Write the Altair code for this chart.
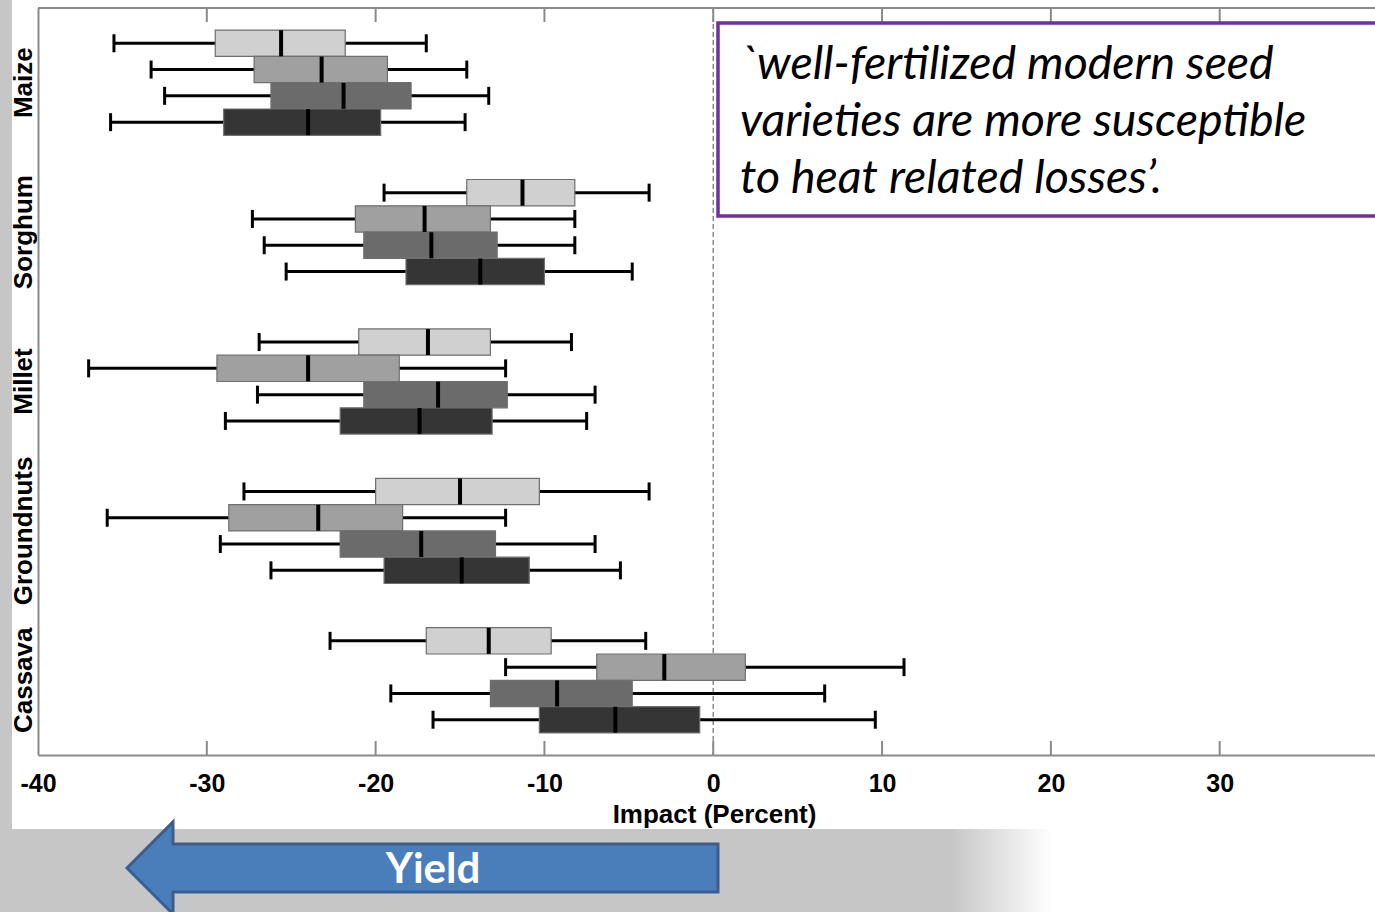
import altair as alt
import pandas as pd

# ---------------- data ----------------
crops = ["Maize", "Sorghum", "Millet", "Groundnuts", "Cassava"]
series = ["Series 1", "Series 2", "Series 3", "Series 4"]
series_colors = ["#d0d0d0", "#a0a0a0", "#6b6b6b", "#353535"]

# values listed crop by crop, series 1..4 within each crop
whisker_low = [-35.5, -33.3, -32.5, -35.7,
               -19.5, -27.3, -26.6, -25.3,
               -26.9, -37.0, -27.0, -28.9,
               -27.8, -35.9, -29.2, -26.2,
               -22.7, -12.3, -19.1, -16.6]
q1 = [-29.5, -27.2, -26.2, -29.0,
      -14.6, -21.2, -20.7, -18.2,
      -21.0, -29.4, -20.7, -22.1,
      -20.0, -28.7, -22.1, -19.5,
      -17.0, -6.9, -13.2, -10.3]
median = [-25.6, -23.2, -21.9, -24.0,
          -11.3, -17.1, -16.7, -13.8,
          -16.9, -24.0, -16.3, -17.4,
          -15.0, -23.4, -17.3, -14.9,
          -13.3, -2.9, -9.25, -5.8]
q3 = [-21.8, -19.3, -17.9, -19.7,
      -8.2, -13.2, -12.8, -10.0,
      -13.2, -18.6, -12.2, -13.1,
      -10.3, -18.4, -12.9, -10.9,
      -9.6, 1.9, -4.8, -0.8]
whisker_high = [-17.0, -14.6, -13.3, -14.7,
                -3.8, -8.2, -8.2, -4.8,
                -8.4, -12.3, -7.0, -7.5,
                -3.8, -12.3, -7.0, -5.5,
                -4.0, 11.3, 6.6, 9.6]

x_ticks = [-40, -30, -20, -10, 0, 10, 20, 30]
inner_ticks = [-30, -20, -10, 0, 10, 20, 30]
zero_line = [0]
x_domain = [-40, 39.2]

quote_lines = ["`well-fertilized modern seed",
               "varieties are more susceptible",
               "to heat related losses\u2019."]
arrow_label = "Yield"
x_title = "Impact (Percent)"

# ---------------- table ----------------
rows = []
i = 0
for c in crops:
    for s in series:
        rows.append(dict(crop=c, series=s, lo=whisker_low[i], q1=q1[i],
                         med=median[i], q3=q3[i], hi=whisker_high[i]))
        i += 1
df = pd.DataFrame(rows)
one = pd.DataFrame({"k": [0]})

W, H = 1337, 747
AXIS_GRAY = "#8a8a8a"

xscale = alt.Scale(domain=x_domain, nice=False, zero=False)
yscale = alt.Scale(domain=crops, paddingInner=0.296, paddingOuter=0.148)
oscale = alt.Scale(domain=series, paddingInner=0, paddingOuter=0)

X = lambda f: alt.X(f, type="quantitative", scale=xscale,
                    axis=alt.Axis(values=x_ticks, title=x_title, grid=False,
                                  ticks=False, tickSize=0, labelFlush=False,
                                  labelOverlap=False, labelPadding=16,
                                  labelExpr="datum.value < 0 ? '-' + abs(datum.value) : '' + datum.value",
                                  labelFontSize=25, labelFontWeight="bold",
                                  labelColor="black", labelFont="Liberation Sans",
                                  domainColor=AXIS_GRAY, domainWidth=2,
                                  titleFont="Liberation Sans", titleFontSize=26,
                                  titleFontWeight="bold", titleColor="black",
                                  titleX=676, titleY=67, titleBaseline="alphabetic",
                                  titleAlign="center", zindex=1))
Y = alt.Y("crop:N", scale=yscale, sort=crops,
          axis=alt.Axis(title=None, ticks=False, tickSize=0, labelAngle=270,
                        labelAlign="center", labelBaseline="middle",
                        labelPadding=15, labelFontSize=26, labelFontWeight="bold",
                        labelFont="Liberation Sans", labelColor="black",
                        domainColor=AXIS_GRAY, domainWidth=2, grid=False,
                        zindex=1))
YO = alt.YOffset("series:N", scale=oscale, sort=series)

# ---------------- decorations (background) ----------------
white_bg = alt.Chart(one).mark_rect(color="white").encode(
    x=alt.value(-26), x2=alt.value(W), y=alt.value(-8), y2=alt.value(821))
fade_bg = alt.Chart(one).mark_rect(
    color=alt.Gradient(gradient="linear", x1=0, y1=0, x2=1, y2=0,
                       stops=[alt.GradientStop(color="#c6c6c6", offset=0),
                              alt.GradientStop(color="white", offset=0.24),
                              alt.GradientStop(color="white", offset=1)])
).encode(x=alt.value(912), x2=alt.value(W), y=alt.value(821), y2=alt.value(904))

top_border = alt.Chart(one).mark_rule(color=AXIS_GRAY, strokeWidth=2).encode(
    x=alt.value(0), x2=alt.value(W), y=alt.value(0))
top_ticks = alt.Chart(pd.DataFrame({"t": inner_ticks})).mark_rule(
    color=AXIS_GRAY, strokeWidth=2).encode(
    x=alt.X("t:Q", scale=xscale), y=alt.value(0), y2=alt.value(14))
bottom_ticks = alt.Chart(pd.DataFrame({"t": inner_ticks})).mark_rule(
    color=AXIS_GRAY, strokeWidth=2).encode(
    x=alt.X("t:Q", scale=xscale), y=alt.value(H - 14), y2=alt.value(H))
zero_rule = alt.Chart(pd.DataFrame({"z": zero_line})).mark_rule(
    color="#8c8c8c", strokeWidth=1.5, strokeDash=[5, 3]).encode(
    x=alt.X("z:Q", scale=xscale), y=alt.value(0), y2=alt.value(H))

# ---------------- box plots ----------------
base = alt.Chart(df)
whisk = base.mark_rule(color="black", strokeWidth=3).encode(
    x=X("lo"), x2="hi", y=Y, yOffset=YO)
boxes = base.mark_bar(stroke="#6f6f6f", strokeWidth=1.2).encode(
    x=X("q1"), x2="q3", y=Y, yOffset=YO,
    color=alt.Color("series:N", scale=alt.Scale(domain=series, range=series_colors),
                    legend=None))
meds = base.mark_tick(color="black", thickness=4, size=26, opacity=1).encode(
    x=X("med"), y=Y, yOffset=YO)
cap_lo = base.mark_tick(color="black", thickness=3, size=18, opacity=1).encode(
    x=X("lo"), y=Y, yOffset=YO)
cap_hi = base.mark_tick(color="black", thickness=3, size=18, opacity=1).encode(
    x=X("hi"), y=Y, yOffset=YO)

# ---------------- annotations ----------------
quote_box = alt.Chart(one).mark_rect(fill="white", stroke="#7030a0", strokeWidth=3.5).encode(
    x=alt.value(680), x2=alt.value(W + 20), y=alt.value(15), y2=alt.value(208))
quote_text = alt.Chart(one).mark_text(
    align="left", baseline="alphabetic", font="Lato", fontStyle="italic",
    fontSize=46.5, lineHeight=57, color="black").encode(
    x=alt.value(702), y=alt.value(71), text=alt.value(quote_lines))

arrow_path = ("M -1 0 L -0.8443 -0.1557 L -0.8443 -0.0812 L 1 -0.0812 "
              "L 1 0.0812 L -0.8443 0.0812 L -0.8443 0.1557 Z")
arrow = alt.Chart(one).mark_point(
    shape=arrow_path, size=591 * 591, filled=True, fill="#4a7ebb",
    stroke="#3a5f8e", strokeWidth=3, opacity=1, strokeJoin="miter").encode(
    x=alt.value(384.5), y=alt.value(860))
arrow_text = alt.Chart(one).mark_text(
    align="center", baseline="alphabetic", font="Lato", fontWeight="bold",
    fontSize=42, color="white").encode(
    x=alt.value(395), y=alt.value(875), text=alt.value(arrow_label))

chart = alt.layer(
    white_bg, fade_bg, zero_rule, top_border, top_ticks, bottom_ticks,
    whisk, boxes, meds, cap_lo, cap_hi,
    quote_box, quote_text, arrow, arrow_text
).properties(
    width=W, height=H,
    autosize=alt.AutoSizeParams(type="none"),
    padding={"left": 38, "top": 8, "right": 0, "bottom": 157},
).configure(background="#c6c6c6").configure_view(strokeWidth=0)

chart.save("out.html", embed_options={"renderer": "svg", "actions": False})
